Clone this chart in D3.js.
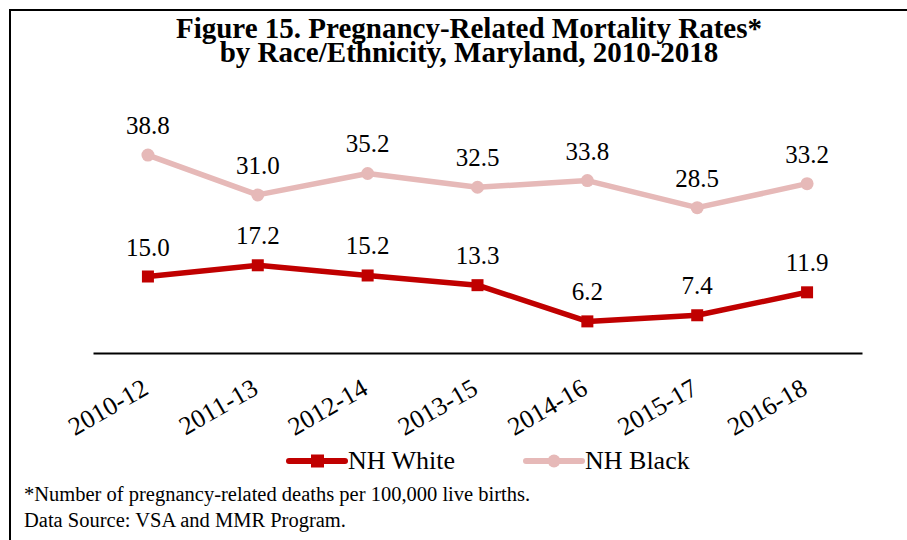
<!DOCTYPE html>
<html>
<head>
<meta charset="utf-8">
<script src="https://cdn.jsdelivr.net/npm/d3@7"></script>
<style>
  body { margin: 0; background: #fff; }
</style>
</head>
<body>
<svg id="chart" width="907" height="540"></svg>
<script>
// data
const periods = ["2010-12", "2011-13", "2012-14", "2013-15", "2014-16", "2015-17", "2016-18"];
const nhWhite = [15.0, 17.2, 15.2, 13.3, 6.2, 7.4, 11.9];
const nhBlack = [38.8, 31.0, 35.2, 32.5, 33.8, 28.5, 33.2];
const seriesNames = ["NH White", "NH Black"];
const seriesColors = ["#c00000", "#e6b9b8"];
const titleLines = ["Figure 15. Pregnancy-Related Mortality Rates*", "by Race/Ethnicity, Maryland, 2010-2018"];
const notes = ["*Number of pregnancy-related deaths per 100,000 live births.", "Data Source: VSA and MMR Program."];

const FONT = "'Liberation Serif', 'Times New Roman', serif";

var svg = d3.select("#chart");

// outer frame (only top and left edges show)
svg.append("rect")
  .attr("x", 10).attr("y", 10)
  .attr("width", 920).attr("height", 560)
  .attr("fill", "none")
  .attr("stroke", "#000")
  .attr("stroke-width", 2);

// title, two tight lines
svg.selectAll("text.title")
  .data(titleLines)
  .join("text")
  .attr("class", "title")
  .attr("x", 469)
  .attr("y", (d, i) => 38 + i * 24)
  .attr("text-anchor", "middle")
  .style("font-family", FONT)
  .style("font-size", "29px")
  .style("font-weight", "bold")
  .text(d => d);

var x = d3.scaleBand().domain(periods).range([93, 862]);
var y = d3.scaleLinear().domain([0, 50]).range([353, 98]);

// x axis: plain line, rotated labels
var xAxis = svg.append("g")
  .attr("transform", "translate(0,353)")
  .call(d3.axisBottom(x).tickSize(0).tickSizeOuter(0));
xAxis.select(".domain").attr("stroke", "#000").attr("stroke-width", 2);
xAxis.selectAll(".tick text")
  .style("font-family", FONT)
  .style("font-size", "26px")
  .attr("fill", "#000")
  .attr("text-anchor", "end")
  .attr("y", 0)
  .attr("dy", 0)
  .attr("transform", "translate(2,40) rotate(-30)");

var series = [nhWhite, nhBlack];

var line = d3.line()
  .x((d, i) => x(periods[i]) + x.bandwidth() / 2)
  .y(d => y(d));

series.forEach(function (vals, s) {
  var g = svg.append("g");
  g.append("path")
    .datum(vals)
    .attr("d", line)
    .attr("fill", "none")
    .attr("stroke", seriesColors[s])
    .attr("stroke-width", 5.5)
    .attr("stroke-linejoin", "round");

  if (s === 0) {
    g.selectAll("rect")
      .data(vals)
      .join("rect")
      .attr("x", (d, i) => x(periods[i]) + x.bandwidth() / 2 - 6)
      .attr("y", d => y(d) - 6)
      .attr("width", 12).attr("height", 12)
      .attr("fill", seriesColors[s]);
  } else {
    g.selectAll("circle")
      .data(vals)
      .join("circle")
      .attr("cx", (d, i) => x(periods[i]) + x.bandwidth() / 2)
      .attr("cy", d => y(d))
      .attr("r", 6.5)
      .attr("fill", seriesColors[s]);
  }

  g.selectAll("text")
    .data(vals)
    .join("text")
    .attr("x", (d, i) => x(periods[i]) + x.bandwidth() / 2)
    .attr("y", d => y(d) - 21)
    .attr("text-anchor", "middle")
    .style("font-family", FONT)
    .style("font-size", "25px")
    .text(d => d.toFixed(1));
});

// legend
var legX = [289, 526];
var leg = svg.selectAll("g.leg")
  .data(seriesNames)
  .join("g")
  .attr("class", "leg")
  .attr("transform", (d, i) => "translate(" + legX[i] + ",461)");
leg.append("line")
  .attr("x1", 0).attr("x2", 56)
  .attr("stroke", (d, i) => seriesColors[i])
  .attr("stroke-width", 6)
  .attr("stroke-linecap", "round");
leg.filter((d, i) => i === 0).append("rect")
  .attr("x", 22).attr("y", -6.5).attr("width", 13).attr("height", 13)
  .attr("fill", seriesColors[0]);
leg.filter((d, i) => i === 1).append("circle")
  .attr("cx", 28).attr("r", 6.5)
  .attr("fill", seriesColors[1]);
leg.append("text")
  .attr("x", 59).attr("y", 8)
  .style("font-family", FONT)
  .style("font-size", "26px")
  .text(d => d);

// footnotes
svg.selectAll("text.note")
  .data(notes)
  .join("text")
  .attr("class", "note")
  .attr("x", 24)
  .attr("y", (d, i) => 501 + i * 26)
  .style("font-family", FONT)
  .style("font-size", "20.5px")
  .text(d => d);
</script>
</body>
</html>
